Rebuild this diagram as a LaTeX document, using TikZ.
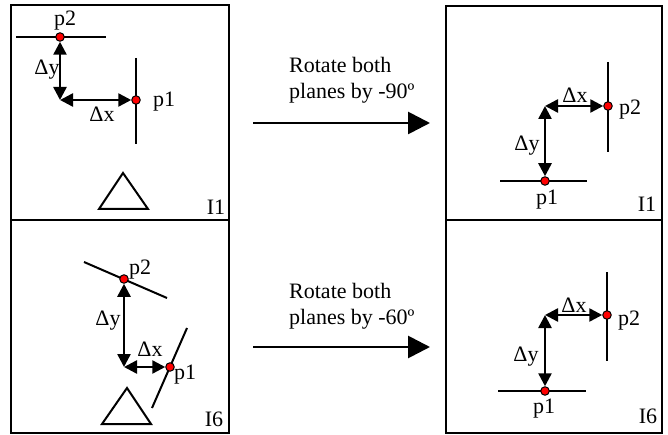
\documentclass[tikz,border=0pt]{standalone}
\usepackage{fontspec}
\setmainfont{Liberation Serif}
\usetikzlibrary{arrows.meta,backgrounds}
\begin{document}
\begin{tikzpicture}[x=1pt,y=-1pt,
  frame/.style={line width=1.6pt},
  plane/.style={line width=2pt},
  dot/.style={circle,fill=red,draw=black,line width=1pt,minimum size=8.5pt,inner sep=0pt},
  dbl/.style={line width=2.5pt,{Triangle[length=13pt,width=13pt]}-{Triangle[length=13pt,width=13pt]}},
  big/.style={line width=2.8pt,-{Triangle[length=22pt,width=22pt]}},
  lbl/.style={font=\fontsize{22}{26}\selectfont,inner sep=0pt},
  tri/.style={line width=2pt,line join=miter}]
\useasboundingbox (0,0) rectangle (668,435);

% frames
\draw[frame] (11,5) rectangle (229,433);
\draw[frame] (11,220) -- (229,220);
\draw[frame] (446,6) rectangle (662,433);
\draw[frame] (446,220) -- (662,220);

% ---------- top left (I1, before) ----------
\node[dot] (tlp2) at (60,37) {};
\node[dot] (tlp1) at (136,100) {};
\coordinate (tlc) at (60,100);
\coordinate (tla) at (16,37);  \coordinate (tlb) at (106,37);
\coordinate (tld) at (136,58); \coordinate (tle) at (136,144);
\node[lbl] (tlp2l) at (65,21) {p2};
\node[lbl] (tlp1l) at (164,102) {p1};
\node[lbl] (tldy) at (47,70) {Δy};
\node[lbl] (tldx) at (102,114) {Δx};
\node[lbl] (tlid) at (216,207) {I1};
\draw[tri] (123,173) -- (148,209) -- (99,209) -- cycle;

% ---------- bottom left (I6, before) ----------
\node[dot] (blp2) at (124,279) {};
\node[dot] (blp1) at (170,367) {};
\coordinate (blc) at (124,367);
\coordinate (bla) at (84,262);  \coordinate (blb) at (167,298);
\coordinate (bld) at (152,408); \coordinate (ble) at (187,328);
\node[lbl] (blp2l) at (140,270) {p2};
\node[lbl] (blp1l) at (185,375) {p1};
\node[lbl] (bldy) at (108,321) {Δy};
\node[lbl] (bldx) at (150,349) {Δx};
\node[lbl] (blid) at (214,419) {I6};
\draw[tri] (127,388) -- (151,424) -- (102,424) -- cycle;

% ---------- top right (I1, after) ----------
\node[dot] (trp2) at (608,106) {};
\node[dot] (trp1) at (545,181) {};
\coordinate (trc) at (545,106);
\coordinate (tra) at (608,62);  \coordinate (trb) at (608,152);
\coordinate (trd) at (500,181); \coordinate (tre) at (587,181);
\node[lbl] (trp2l) at (630,110) {p2};
\node[lbl] (trp1l) at (547,200) {p1};
\node[lbl] (trdy) at (527,146) {Δy};
\node[lbl] (trdx) at (575,95) {Δx};
\node[lbl] (trid) at (647,204) {I1};

% ---------- bottom right (I6, after) ----------
\node[dot] (brp2) at (607,315) {};
\node[dot] (brp1) at (545,391) {};
\coordinate (brc) at (545,315);
\coordinate (bra) at (607,272); \coordinate (brb) at (607,361);
\coordinate (brd) at (498,391); \coordinate (bre) at (586,391);
\node[lbl] (brp2l) at (629,321) {p2};
\node[lbl] (brp1l) at (544,409) {p1};
\node[lbl] (brdy) at (526,357) {Δy};
\node[lbl] (brdx) at (574,305) {Δx};
\node[lbl] (brid) at (648,416) {I6};

% ---------- middle arrows ----------
\coordinate (ma1) at (253,123); \coordinate (mb1) at (430,123);
\coordinate (ma2) at (253,347); \coordinate (mb2) at (430,347);
\node[lbl,align=left,anchor=north west] (txt1) at (289,57) {Rotate both\\planes by -90º};
\node[lbl,align=left,anchor=north west] (txt2) at (289,283) {Rotate both\\planes by -60º};
\draw[big] (ma1) -- (mb1);
\draw[big] (ma2) -- (mb2);

% ---------- lines behind the dots ----------
\begin{scope}[on background layer]
  \draw[plane] (tla) -- (tlb);  \draw[plane] (tld) -- (tle);
  \draw[dbl] (tlp2) -- (tlc);   \draw[dbl] (tlc) -- (tlp1);
  \draw[plane] (bla) -- (blb);  \draw[plane] (bld) -- (ble);
  \draw[dbl] (blp2) -- (blc);   \draw[dbl] (blc) -- (blp1);
  \draw[plane] (tra) -- (trb);  \draw[plane] (trd) -- (tre);
  \draw[dbl] (trc) -- (trp2);   \draw[dbl] (trc) -- (trp1);
  \draw[plane] (bra) -- (brb);  \draw[plane] (brd) -- (bre);
  \draw[dbl] (brc) -- (brp2);   \draw[dbl] (brc) -- (brp1);
\end{scope}
\end{tikzpicture}
\end{document}
